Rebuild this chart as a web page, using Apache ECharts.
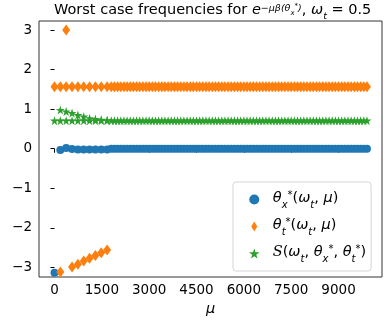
<!DOCTYPE html>
<html>
<head>
<meta charset="utf-8">
<script src="https://cdn.jsdelivr.net/npm/echarts@6/dist/echarts.min.js"></script>
<style>html,body{margin:0;padding:0;background:#fff}#c{width:389px;height:322px}</style>
</head>
<body>
<div id="c"></div>
<script>
// ---- data ----
const muCoarse = [0, 185, 370, 556, 741, 926, 1111, 1296, 1481, 1667];
const muCoarseB = [185, 370, 556, 741, 926, 1111, 1296, 1481, 1667];
const muDense = [
  1800,1900,2000,2100,2200,2300,2400,2500,2600,2700,
  2800,2900,3000,3100,3200,3300,3400,3500,3600,3700,
  3800,3900,4000,4100,4200,4300,4400,4500,4600,4700,
  4800,4900,5000,5100,5200,5300,5400,5500,5600,5700,
  5800,5900,6000,6100,6200,6300,6400,6500,6600,6700,
  6800,6900,7000,7100,7200,7300,7400,7500,7600,7700,
  7800,7900,8000,8100,8200,8300,8400,8500,8600,8700,
  8800,8900,9000,9100,9200,9300,9400,9500,9600,9700,
  9800,9900
];
// theta_x*
const thetaXCoarse = [-3.14, -0.03, 0.02, -0.01, -0.02, -0.02, -0.02, -0.02, -0.02, -0.02];
const thetaXDense = [
  0,0,0,0,0,0,0,0,0,0, 0,0,0,0,0,0,0,0,0,0,
  0,0,0,0,0,0,0,0,0,0, 0,0,0,0,0,0,0,0,0,0,
  0,0,0,0,0,0,0,0,0,0, 0,0,0,0,0,0,0,0,0,0,
  0,0,0,0,0,0,0,0,0,0, 0,0,0,0,0,0,0,0,0,0,
  0,0
];
// theta_t*
const thetaTCoarseA = [1.57, 1.57, 1.57, 1.57, 1.57, 1.57, 1.57, 1.57, 1.57, 1.57];
const thetaTCoarseB = [-3.12, 3.0, -2.99, -2.92, -2.84, -2.77, -2.7, -2.63, -2.56];
const thetaTDense = [
  1.57,1.57,1.57,1.57,1.57,1.57,1.57,1.57,1.57,1.57, 1.57,1.57,1.57,1.57,1.57,1.57,1.57,1.57,1.57,1.57,
  1.57,1.57,1.57,1.57,1.57,1.57,1.57,1.57,1.57,1.57, 1.57,1.57,1.57,1.57,1.57,1.57,1.57,1.57,1.57,1.57,
  1.57,1.57,1.57,1.57,1.57,1.57,1.57,1.57,1.57,1.57, 1.57,1.57,1.57,1.57,1.57,1.57,1.57,1.57,1.57,1.57,
  1.57,1.57,1.57,1.57,1.57,1.57,1.57,1.57,1.57,1.57, 1.57,1.57,1.57,1.57,1.57,1.57,1.57,1.57,1.57,1.57,
  1.57,1.57
];
// S(omega_t, theta_x*, theta_t*)
const sCoarseA = [0.71, 0.71, 0.71, 0.71, 0.71, 0.71, 0.71, 0.71, 0.71, 0.71];
const sCoarseB = [0.98, 0.94, 0.90, 0.85, 0.81, 0.77, 0.75, 0.73, 0.72];
const sDense = [
  0.71,0.71,0.71,0.71,0.71,0.71,0.71,0.71,0.71,0.71, 0.71,0.71,0.71,0.71,0.71,0.71,0.71,0.71,0.71,0.71,
  0.71,0.71,0.71,0.71,0.71,0.71,0.71,0.71,0.71,0.71, 0.71,0.71,0.71,0.71,0.71,0.71,0.71,0.71,0.71,0.71,
  0.71,0.71,0.71,0.71,0.71,0.71,0.71,0.71,0.71,0.71, 0.71,0.71,0.71,0.71,0.71,0.71,0.71,0.71,0.71,0.71,
  0.71,0.71,0.71,0.71,0.71,0.71,0.71,0.71,0.71,0.71, 0.71,0.71,0.71,0.71,0.71,0.71,0.71,0.71,0.71,0.71,
  0.71,0.71
];
const xTicks = [0, 1500, 3000, 4500, 6000, 7500, 9000];
const yTicks = [-3, -2, -1, 0, 1, 2, 3];

// ---- build ----
const zip = (xs, ys) => xs.map((x, i) => [x, ys[i]]);
const blueData = zip(muCoarse, thetaXCoarse).concat(zip(muDense, thetaXDense));
const orangeData = zip(muCoarse, thetaTCoarseA).concat(zip(muCoarseB, thetaTCoarseB), zip(muDense, thetaTDense));
const greenData = zip(muCoarse, sCoarseA).concat(zip(muCoarseB, sCoarseB), zip(muDense, sDense));

const FONT = 'DejaVu Sans';
const STAR = 'path://M50,0 L61.2,34.5 L97.6,34.5 L68.2,55.9 L79.4,90.5 L50,69.1 L20.6,90.5 L31.8,55.9 L2.4,34.5 L38.8,34.5 Z';
const DIAMOND = 'path://M30,0 L60,50 L30,100 L0,50 Z';

const base = {fontFamily: FONT, color: '#000', fontWeight: 'normal'};
function makeRich(big, small, tiny) {
  return {
    n: Object.assign({}, base, {fontSize: big, verticalAlign: 'bottom', padding: [0, 0, 4, 0]}),
    i: Object.assign({}, base, {fontSize: big, fontStyle: 'italic', verticalAlign: 'bottom', padding: [0, 0, 4, 0]}),
    sub: Object.assign({}, base, {fontSize: small, fontStyle: 'italic', verticalAlign: 'bottom', padding: [0, 0, 0, 0]}),
    sup: Object.assign({}, base, {fontSize: small, fontStyle: 'italic', verticalAlign: 'top', padding: [1, 0, 0, 0]}),
    ssub: Object.assign({}, base, {fontSize: tiny, fontStyle: 'italic', verticalAlign: 'top', padding: [7, 0, 0, 0]}),
    ssup: Object.assign({}, base, {fontSize: tiny, verticalAlign: 'top', padding: [0, 0, 0, 0]}),
    cal: Object.assign({}, base, {fontFamily: 'DejaVu Serif', fontSize: big, fontStyle: 'italic', verticalAlign: 'bottom', padding: [0, 0, 4, 0]})
  };
}
const titleRich = makeRich(14.5, 9.5, 7);
const legendRich = makeRich(14.5, 10, 8);
legendRich.n.lineHeight = 21;

const legendText = {
  thetaX: '{i|θ}{sub|x}{sup|*}{n|(}{i|ω}{sub|t}{n|, }{i|μ}{n|)}',
  thetaT: '{i|θ}{sub|t}{sup|*}{n|(}{i|ω}{sub|t}{n|, }{i|μ}{n|)}',
  S: '{cal|S}{n|(}{i|ω}{sub|t}{n|, }{i|θ}{sub|x}{sup|*}{n|, }{i|θ}{sub|t}{sup|*}{n|)}'
};

const chart = echarts.init(document.getElementById('c'), null, {renderer: 'canvas'});
chart.setOption({
  animation: false,
  backgroundColor: '#fff',
  title: {
    left: 49, top: -2,
    text: '{n|Worst case frequencies for }{i|e}{sup|−μβ(θ}{ssub|x}{ssup|*}{sup|)}{n|, }{i|ω}{sub|t}{n| = 0.5}',
    textStyle: {fontWeight: 'normal', rich: titleRich}
  },
  grid: {left: 39, right: 7, top: 21, bottom: 45, show: true, borderColor: '#333', borderWidth: 1, backgroundColor: 'transparent'},
  xAxis: {
    type: 'value', min: -491, max: 10377,
    name: 'μ', nameLocation: 'middle', nameGap: 23,
    nameTextStyle: {fontFamily: FONT, fontSize: 14.5, fontStyle: 'italic', color: '#000'},
    axisLine: {show: false},
    axisTick: {show: true, length: 4, lineStyle: {color: '#000'}, customValues: xTicks},
    axisLabel: {fontFamily: FONT, fontSize: 13.5, color: '#000', margin: 6, customValues: xTicks,
      formatter: v => String(v)},
    splitLine: {show: false}
  },
  yAxis: {
    type: 'value', min: -3.245, max: 3.23,
    axisLine: {show: false},
    axisTick: {show: true, length: 4, lineStyle: {color: '#000'}, customValues: yTicks},
    axisLabel: {fontFamily: FONT, fontSize: 13.5, color: '#000', margin: 7, customValues: yTicks,
      formatter: v => String(v).replace('-', '−')},
    splitLine: {show: false}
  },
  legend: {
    orient: 'vertical', left: 233, top: 182,
    padding: [8, 5, 7, 16],
    itemWidth: 27, itemHeight: 10, itemGap: 7, symbolKeepAspect: true,
    borderColor: '#d5d5d5', borderWidth: 1, borderRadius: 3, backgroundColor: 'rgba(255,255,255,0.8)',
    data: ['thetaX', 'thetaT', 'S'],
    formatter: name => legendText[name],
    textStyle: {fontWeight: 'normal', rich: legendRich}
  },
  series: [
    {name: 'thetaX', type: 'scatter', data: blueData, symbol: 'circle', symbolSize: 8,
      itemStyle: {color: '#1f77b4', opacity: 1}},
    {name: 'thetaT', type: 'scatter', data: orangeData, symbol: DIAMOND, symbolSize: [8, 11],
      itemStyle: {color: '#ff7f0e', opacity: 1}},
    {name: 'S', type: 'scatter', data: greenData, symbol: STAR, symbolSize: 9,
      itemStyle: {color: '#2ca02c', opacity: 1}}
  ]
});
</script>
</body>
</html>
